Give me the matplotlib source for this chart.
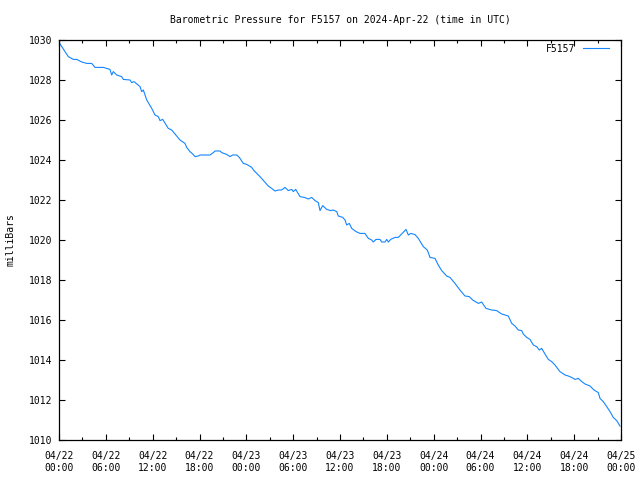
import matplotlib
matplotlib.use("Agg")
import matplotlib.pyplot as plt
from matplotlib.ticker import MultipleLocator

# hours since 2024-04-22 00:00 UTC
hours = [0.0, 0.22, 1.19, 1.83, 2.27, 2.91, 3.55, 4.19, 4.61, 5.68, 6.53, 6.75, 6.96, 7.39,
         8.03, 8.24, 9.10, 9.31, 9.61, 10.38, 10.59, 10.80, 11.24, 11.44, 11.88, 12.30,
         12.72, 12.94, 13.29, 14.00, 14.44, 15.08, 15.50, 16.14, 16.36, 16.78, 17.13,
         17.42, 17.85, 18.06, 19.35, 19.77, 19.99, 20.63, 20.84, 21.48, 21.91, 22.25,
         22.77, 23.10, 23.61, 24.05, 24.69, 24.98, 25.75, 26.52, 26.81, 27.25, 27.67,
         28.10, 28.53, 28.95, 29.38, 29.81, 30.02, 30.32, 30.88, 31.52, 31.94, 32.37,
         32.80, 33.22, 33.44, 33.78, 34.30, 34.81, 35.14, 35.58, 35.78, 36.35, 36.64,
         36.86, 37.19, 37.50, 38.05, 38.56, 39.20, 39.63, 40.06, 40.27, 40.61, 41.12,
         41.34, 41.77, 41.98, 42.19, 42.50, 43.05, 43.47, 44.46, 44.75, 45.06, 45.61,
         46.03, 46.67, 47.18, 47.53, 48.17, 48.59, 49.03, 49.67, 50.09, 50.73, 51.37,
         52.01, 52.56, 53.00, 53.72, 54.15, 54.70, 55.43, 56.07, 56.71, 57.56, 58.00,
         58.42, 58.84, 59.28, 59.48, 59.92, 60.34, 60.77, 61.20, 61.53, 61.84, 62.26,
         62.69, 63.12, 63.54, 64.18, 64.83, 65.25, 65.68, 66.11, 66.53, 66.97, 67.39,
         68.03, 68.54, 69.09, 69.31, 69.73, 70.17, 70.59, 71.01, 71.45, 71.78, 71.87]
pressure = [1029.9, 1029.75, 1029.17, 1029.03, 1029.03, 1028.9, 1028.83, 1028.83, 1028.63,
            1028.63, 1028.53, 1028.25, 1028.42, 1028.25, 1028.17, 1028.03, 1028.0, 1027.87,
            1027.92, 1027.67, 1027.42, 1027.5, 1027.0, 1026.87, 1026.58, 1026.25, 1026.17,
            1025.97, 1026.03, 1025.58, 1025.5, 1025.2, 1025.0, 1024.83, 1024.63, 1024.42,
            1024.3, 1024.17, 1024.2, 1024.25, 1024.25, 1024.37, 1024.45, 1024.45, 1024.37,
            1024.28, 1024.17, 1024.25, 1024.25, 1024.13, 1023.83, 1023.78, 1023.63, 1023.47,
            1023.17, 1022.83, 1022.7, 1022.58, 1022.45, 1022.5, 1022.5, 1022.63, 1022.47,
            1022.53, 1022.42, 1022.53, 1022.17, 1022.12, 1022.05, 1022.13, 1021.97, 1021.87,
            1021.47, 1021.72, 1021.53, 1021.47, 1021.5, 1021.42, 1021.2, 1021.13, 1021.0,
            1020.75, 1020.83, 1020.58, 1020.42, 1020.33, 1020.33, 1020.08, 1020.0, 1019.9,
            1020.03, 1020.03, 1019.9, 1019.9, 1020.03, 1019.9, 1020.03, 1020.13, 1020.13,
            1020.53, 1020.25, 1020.33, 1020.27, 1020.08, 1019.67, 1019.5, 1019.13, 1019.08,
            1018.75, 1018.47, 1018.2, 1018.13, 1017.83, 1017.5, 1017.2, 1017.17, 1017.0,
            1016.83, 1016.9, 1016.58, 1016.5, 1016.47, 1016.3, 1016.2, 1015.83, 1015.7,
            1015.5, 1015.47, 1015.3, 1015.13, 1015.03, 1014.75, 1014.67, 1014.5, 1014.58,
            1014.3, 1014.03, 1013.92, 1013.75, 1013.42, 1013.25, 1013.2, 1013.13, 1013.03,
            1013.08, 1012.92, 1012.8, 1012.7, 1012.5, 1012.37, 1012.08, 1011.92, 1011.67,
            1011.42, 1011.13, 1010.97, 1010.75, 1010.7]

tick_hours = list(range(0, 73, 6))
tick_labels = ["04/22\n00:00", "04/22\n06:00", "04/22\n12:00", "04/22\n18:00",
               "04/23\n00:00", "04/23\n06:00", "04/23\n12:00", "04/23\n18:00",
               "04/24\n00:00", "04/24\n06:00", "04/24\n12:00", "04/24\n18:00",
               "04/25\n00:00"]
yticks = list(range(1010, 1031, 2))

plt.rcParams['font.family'] = ['DejaVu Sans Mono']
plt.rcParams['font.size'] = 7

fig = plt.figure(figsize=(6.4, 4.8), dpi=100)
ax = fig.add_axes([59/640, 40/480, 562/640, 400/480])
ax.plot(hours, pressure, color='#1485ff', lw=0.8, label='F5157')
ax.set_xlim(0, 72)
ax.set_ylim(1010, 1030)
ax.set_xticks(tick_hours)
ax.set_xticklabels(tick_labels)
ax.xaxis.set_minor_locator(MultipleLocator(3))
ax.set_yticks(yticks)
ax.set_yticklabels([str(v) for v in yticks])
ax.tick_params(which='major', direction='in', length=4.5, width=0.8, top=True, right=True)
ax.tick_params(axis='x', which='major', pad=8)
ax.tick_params(axis='y', which='major', pad=4.5)
ax.tick_params(axis='x', which='minor', direction='in', length=2.5, width=0.8, top=True)
for s in ax.spines.values():
    s.set_linewidth(0.9)
ax.set_ylabel('milliBars', labelpad=10, fontsize=7)
ax.set_title('Barometric Pressure for F5157 on 2024-Apr-22 (time in UTC)', pad=12, fontsize=7)
leg = ax.legend(loc='upper right', bbox_to_anchor=(1 - 8/562, 1.0), frameon=False,
                markerfirst=False, handlelength=2.7, borderaxespad=0.0, handletextpad=0.8,
                fontsize=7)
fig.savefig('out.png', dpi=100)
